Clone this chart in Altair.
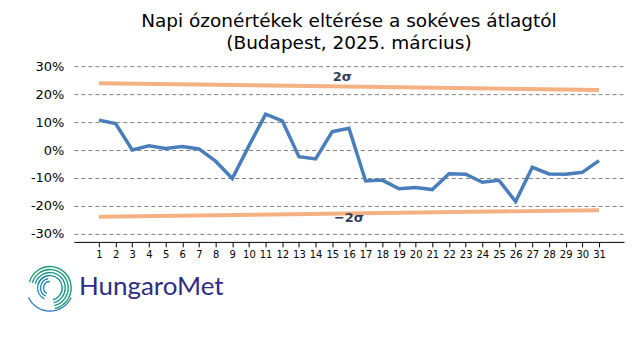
import altair as alt
import pandas as pd

days = list(range(1, 32))
anomaly = [10.75, 9.5, 0.0, 1.5, 0.6, 1.3, 0.4, -4.0, -10.2, 1.5,
           12.9, 10.5, -2.4, -3.2, 6.6, 7.8, -11.1, -10.8, -13.9, -13.5,
           -14.2, -8.5, -8.7, -11.6, -10.9, -18.5, -6.2, -8.6, -8.7, -8.0, -3.8]
sigma_x = [1, 31]
sigma_upper = [24.0, 21.6]
sigma_lower = [-24.0, -21.6]
y_ticks = [-30, -20, -10, 0, 10, 20, 30]
labels = ["2σ", "−2σ"]
label_x = [15.6, 16.0]
label_y = [26.4, -24.4]

df = pd.DataFrame({"day": days, "val": anomaly})
sig = pd.DataFrame({"day": sigma_x, "up": sigma_upper, "lo": sigma_lower})
lab = pd.DataFrame({"t": labels, "x": label_x, "y": label_y})
one = pd.DataFrame({"k": [0]})

xs = alt.Scale(domain=[-0.5, 32.5], nice=False, zero=False)
ys = alt.Scale(domain=[-33, 33], nice=False, zero=False)

xaxis = alt.Axis(values=days, title=None, grid=False, domainColor="black",
                 tickColor="black", tickSize=5, labelFontSize=10, labelColor="black",
                 labelFont="DejaVu Sans", labelPadding=3, labelAngle=0, labelFlush=False,
                 labelOverlap=False)
yaxis = alt.Axis(values=y_ticks, title=None, grid=True, gridDash=[4, 3], gridColor="#808080",
                 gridWidth=1, domain=False, ticks=False, labelFontSize=13, labelColor="black",
                 labelFont="DejaVu Sans", labelPadding=10, labelExpr="datum.value + '%'",
                 labelOverlap=False)

def X(f):
    return alt.X(f, type="quantitative", scale=xs, axis=xaxis)

def Y(f):
    return alt.Y(f, type="quantitative", scale=ys, axis=yaxis)

upper = alt.Chart(sig).mark_line(color="#f4b183", strokeWidth=4).encode(x=X("day"), y=Y("up"))
lower = alt.Chart(sig).mark_line(color="#f4b183", strokeWidth=4).encode(x=X("day"), y=Y("lo"))
line = alt.Chart(df).mark_line(color="#4a7ebb", strokeWidth=3.5).encode(x=X("day"), y=Y("val"))
text = alt.Chart(lab).mark_text(fontWeight="bold", fontSize=13, color="#2f3f5f",
                                font="DejaVu Sans").encode(x=X("x"), y=Y("y"), text="t:N")

# logo (decoration)
TAU = 6.2832
cx, cy = -24, 230
logo_layers = []
ring_colors = ["#1a9a6e", "#1c9a7c", "#1e958a", "#208e96"]
for i, c in enumerate(ring_colors):
    r = 22 - i * 3
    logo_layers.append(
        alt.Chart(one).mark_arc(theta=TAU - 1.3, theta2=TAU + 2.9, radius=r, radius2=r - 1.4,
                                color=c).encode(x=alt.value(cx), y=alt.value(cy)))
for i in range(3):
    r = 13 - i * 3
    logo_layers.append(
        alt.Chart(one).mark_arc(theta=3.6, theta2=5.9 + i * 0.2, radius=r, radius2=r - 1.3,
                                color="#2288a8").encode(x=alt.value(cx), y=alt.value(cy)))
logo_layers.append(
    alt.Chart(one).mark_arc(theta=2.0, theta2=4.3, radius=24, radius2=22.8,
                            color="#2a78b8").encode(x=alt.value(cx), y=alt.value(cy)))
logo_text = alt.Chart(one).mark_text(text="HungaroMet", font="Lato", fontSize=26,
                                     color="#2e2d86", align="left",
                                     baseline="alphabetic").encode(
    x=alt.value(5), y=alt.value(237))

chart = alt.layer(upper, lower, line, text, *logo_layers, logo_text).properties(
    width=551, height=184,
    padding={"left": 66, "top": 50, "right": 8, "bottom": 100},
    autosize=alt.AutoSizeParams(type="none"),
    title=alt.Title(["Napi ózonértékek eltérése a sokéves átlagtól", "(Budapest, 2025. március)"],
                    font="DejaVu Sans", fontSize=18.5, fontWeight="normal", color="black",
                    anchor="middle", offset=6, lineHeight=22),
).configure_view(stroke=None).configure_axis(labelOverlap=False)

chart.save("out.html", embed_options={"renderer": "svg", "actions": False})
